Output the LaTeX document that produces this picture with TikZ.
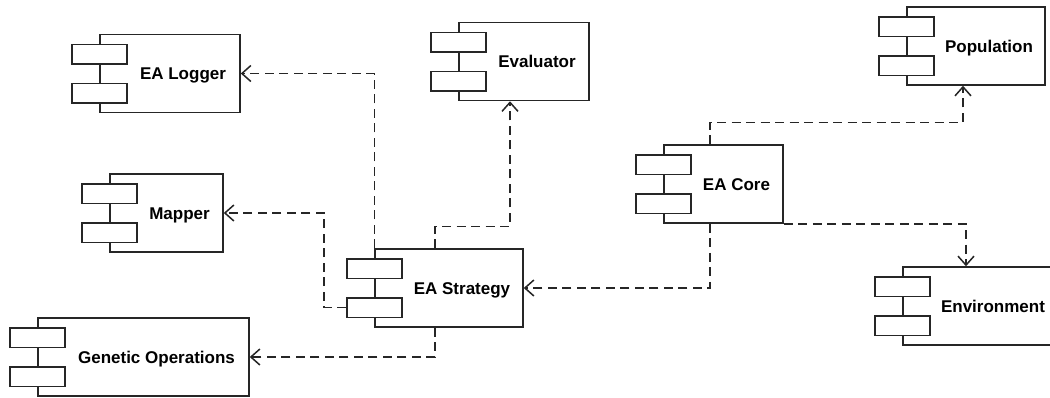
\documentclass[tikz,border=0pt]{standalone}
\usepackage{fontspec}
\setmainfont{Liberation Sans}
\usetikzlibrary{arrows.meta}
\definecolor{linec}{HTML}{262626}

% UML component: main box, two tabs on its left edge, bold label
\newcommand\umlcomp[5]{%
  \node[compbox, minimum width=#4pt] (#1) at (#2,#3) {};
  \node[tabbox] (#1-t1) at ([yshift=19.5pt]#1.west) {};
  \node[tabbox] (#1-t2) at ([yshift=-19.5pt]#1.west) {};
  \node[lbl] (#1-l) at ([xshift=13pt]#1.center) {#5};
}

\begin{document}
\begin{tikzpicture}[x=1pt,y=-1pt,
  compbox/.style={draw=linec, line width=1.5pt, minimum height=78pt, inner sep=0pt, fill=white},
  tabbox/.style={draw=linec, line width=1.5pt, fill=white, minimum width=55pt, minimum height=19.5pt, inner sep=0pt},
  lbl/.style={font=\bfseries\fontsize{17}{20}\selectfont, text=black, inner sep=0pt, text height=12.2pt, text depth=0pt},
  dep/.style={draw=linec, line width=1.5pt, dash pattern=on 9pt off 5.5pt, -{Straight Barb[length=9pt,width=16pt]}}]
\useasboundingbox (0,0) rectangle (1050,397);
\clip (0,0) rectangle (1050,397);
\fill[white] (0,0) rectangle (1050,397);

\umlcomp{log}{170}{73.5}{140}{EA Logger}
\umlcomp{eval}{524}{61.5}{130}{Evaluator}
\umlcomp{map}{166.5}{213}{113}{Mapper}
\umlcomp{str}{449}{288}{148}{EA Strategy}
\umlcomp{gen}{143.5}{357}{211}{Genetic Operations}
\umlcomp{core}{723.5}{184}{119}{EA Core}
\umlcomp{pop}{976}{46}{138}{Population}
\umlcomp{env}{980}{306}{154}{Environment}

% dependencies
\draw[dep] (str.north west) |- (log.east);
\draw[dep] ([xshift=-14pt]str.north) -- ++(0,-22) -| ([xshift=-14pt]eval.south);
\draw[dep] (str-t2.west) -- ++(-22,0) |- (map.east);
\draw[dep] ([xshift=-14pt]str.south) |- (gen.east);
\draw[dep] ([xshift=-13.5pt]core.south) |- (str.east);
\draw[dep] ([xshift=-13.5pt]core.north) -- ++(0,-22) -| ([xshift=-13pt]pop.south);
\draw[dep] (core.south east) -| ([xshift=-14pt]env.north);
\end{tikzpicture}
\end{document}
